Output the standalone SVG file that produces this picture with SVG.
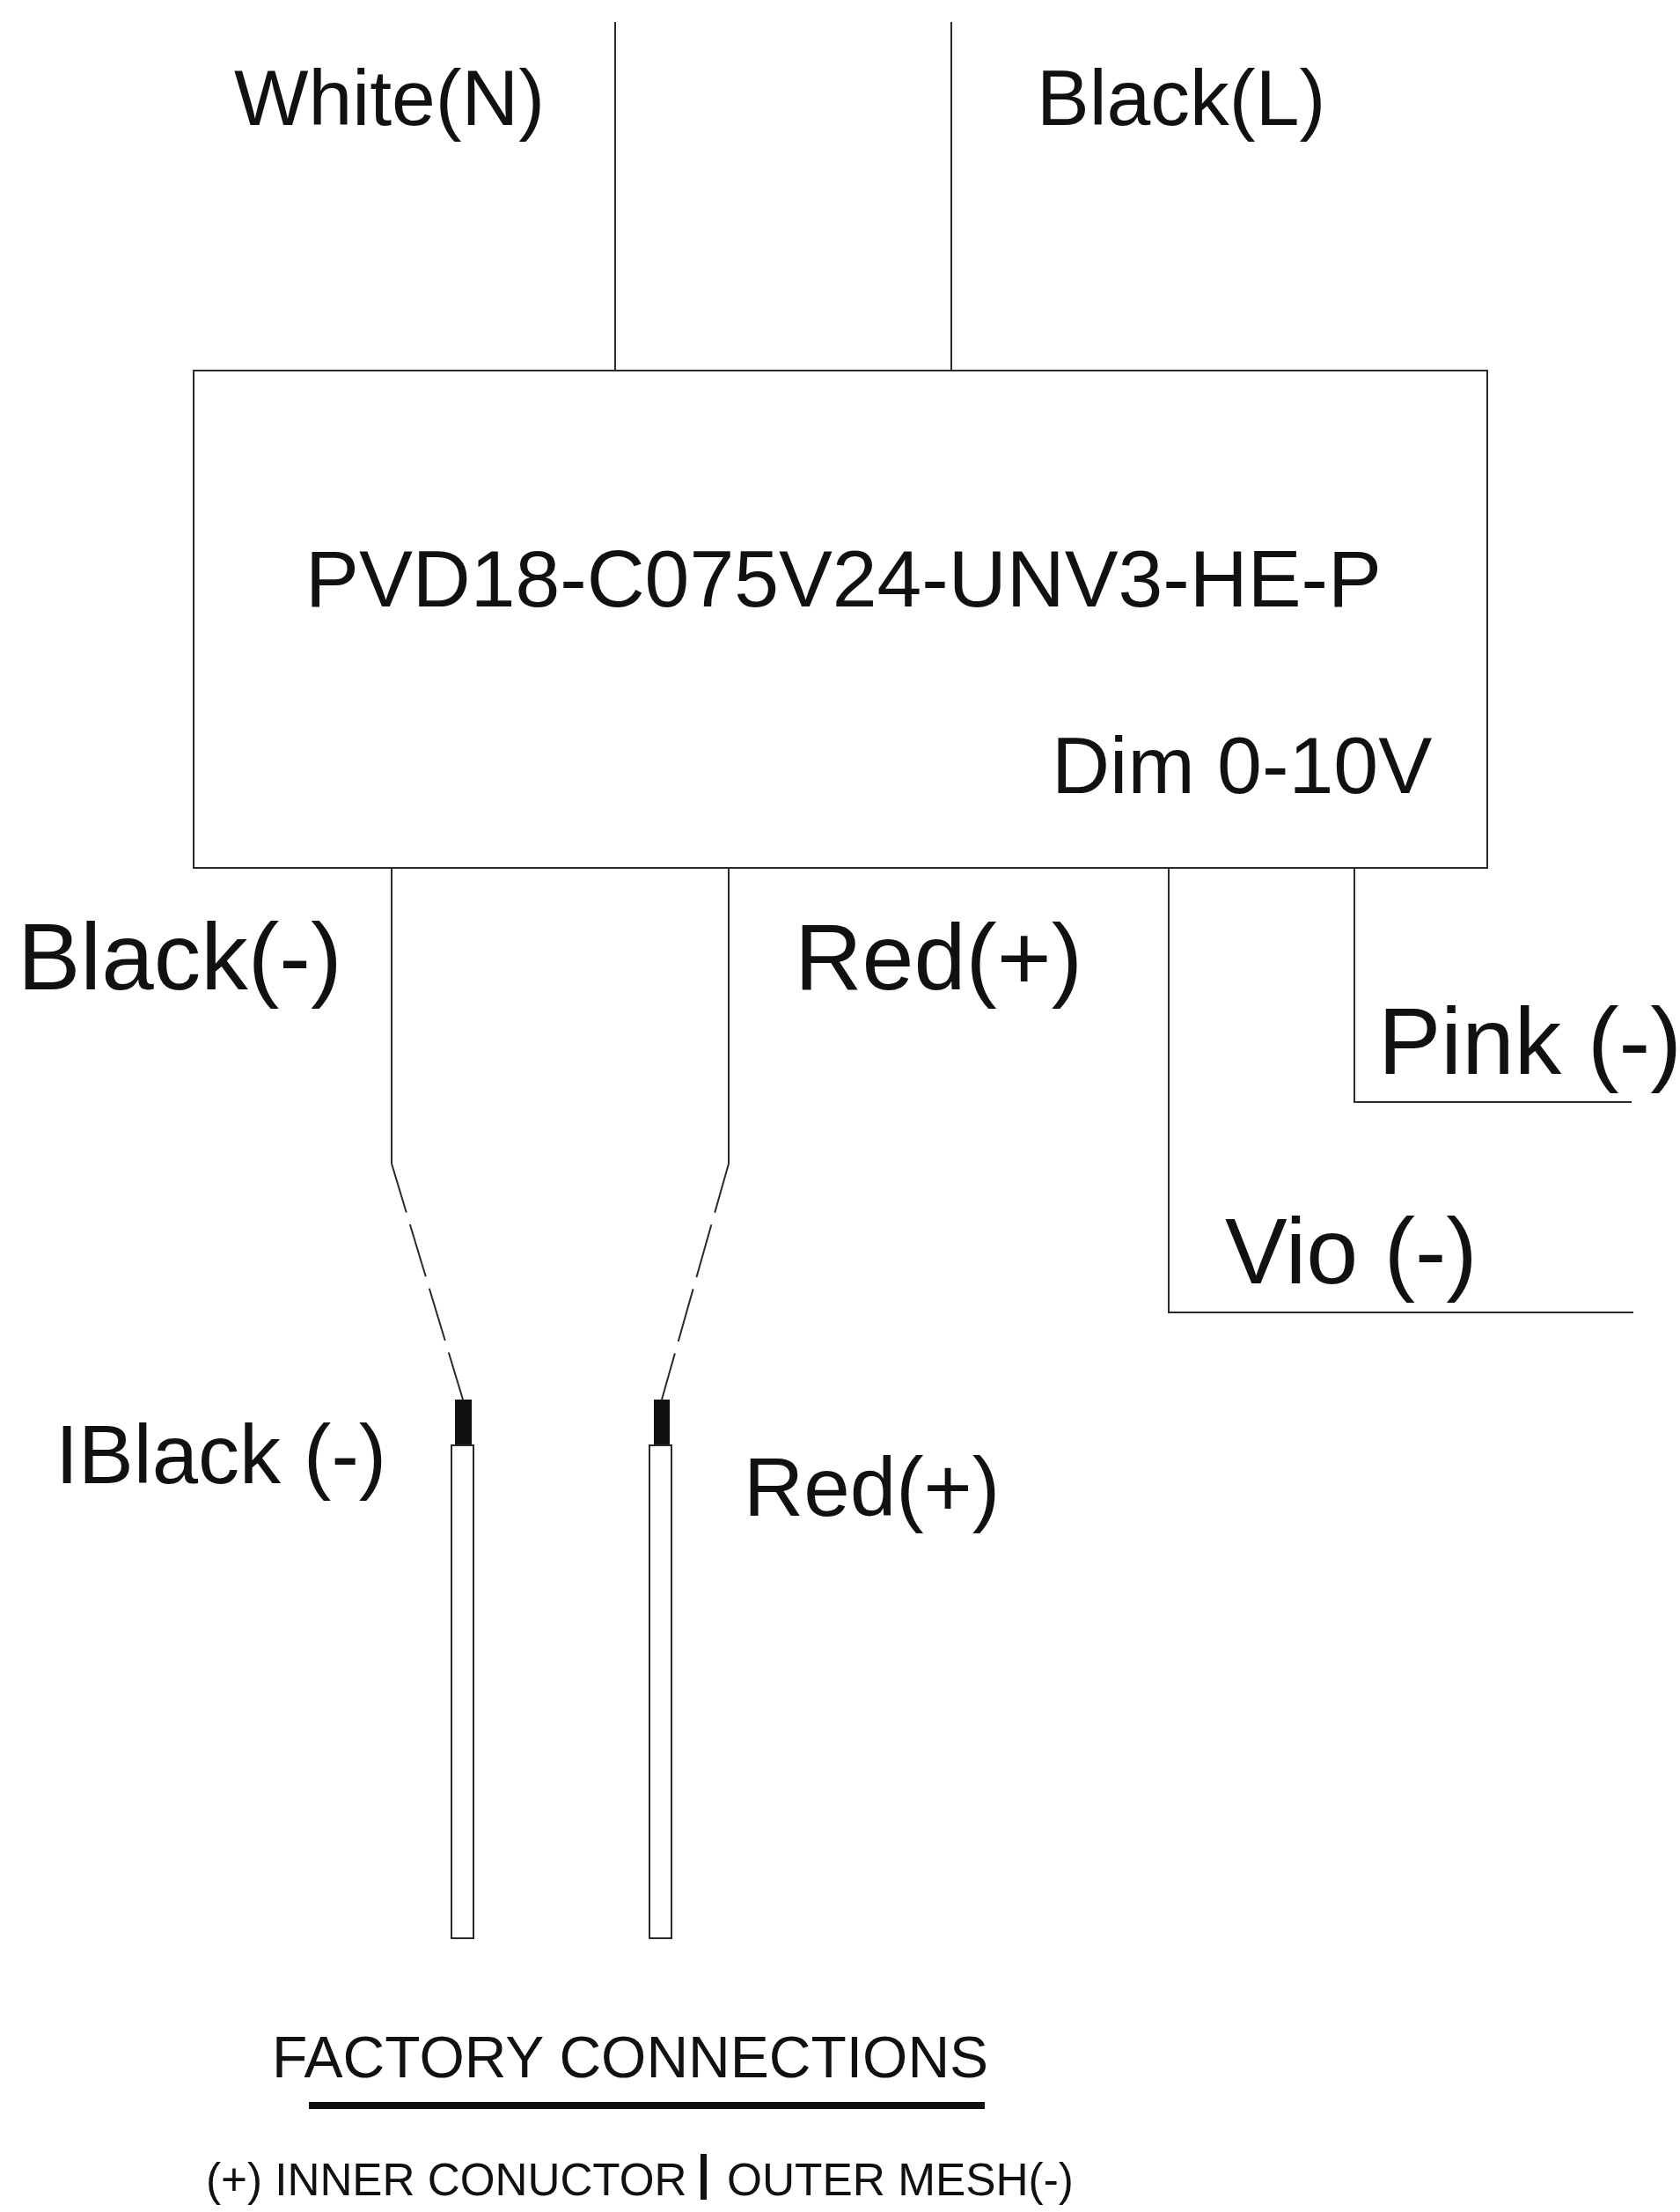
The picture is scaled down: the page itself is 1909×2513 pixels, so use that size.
<svg xmlns="http://www.w3.org/2000/svg" width="1909" height="2513" viewBox="0 0 1909 2513">
<style>
text{font-family:"Liberation Sans",Arial,sans-serif;fill:#111}
.w{fill:none;stroke:#2a2a2a;stroke-width:2}
.d{fill:none;stroke:#2a2a2a;stroke-width:2;stroke-dasharray:62 14;stroke-dashoffset:4}
.t{fill:#fff;stroke:#2a2a2a;stroke-width:2}
</style>
<rect width="1909" height="2513" fill="#fff"/>
<g id="connectors">
<path class="w" d="M699 25V420M1081 25V420"/>
<path class="w" d="M445 986V1322M828 986V1322"/>
<path class="d" d="M445 1322L526 1590"/>
<path class="d" d="M828 1322L752 1590"/>
<path class="w" d="M1328 986V1491H1856"/>
<path class="w" d="M1539 986V1252H1854"/>
</g>
<g id="driver"><rect class="t" x="220" y="421" width="1470" height="565"/>
<text x="347" y="689" font-size="91.3">PVD18-C075V24-UNV3-HE-P</text>
<text x="1195" y="901" font-size="91.5">Dim 0-10V</text></g>
<g id="label-white"><text x="266" y="142" font-size="89.5">White(N)</text></g>
<g id="label-blackl"><text x="1178" y="142" font-size="89.5">Black(L)</text></g>
<g id="label-blackm"><text x="20" y="1124" font-size="107">Black(-)</text></g>
<g id="label-redp"><text x="903" y="1124" font-size="106">Red(+)</text></g>
<g id="label-pink"><text x="1566" y="1220" font-size="107">Pink (-)</text></g>
<g id="label-vio"><text x="1392" y="1458" font-size="106">Vio (-)</text></g>
<g id="label-iblack"><text x="63" y="1685" font-size="94">IBlack (-)</text></g>
<g id="label-red2"><text x="845" y="1722" font-size="94.4">Red(+)</text></g>
<g id="wire-left"><rect x="517" y="1590" width="19" height="52" fill="#111"/><rect class="t" x="513" y="1642" width="25" height="560"/></g>
<g id="wire-right"><rect x="743" y="1590" width="18" height="52" fill="#111"/><rect class="t" x="738" y="1642" width="25" height="560"/></g>
<g id="caption">
<text x="716" y="2360" font-size="66" text-anchor="middle">FACTORY CONNECTIONS</text>
<rect x="351" y="2388" width="768" height="8" fill="#111"/>
<text x="234" y="2494" font-size="51.2">(+) INNER CONUCTOR</text>
<rect x="796" y="2447" width="7" height="52" fill="#111"/>
<text x="826" y="2494" font-size="51.4">OUTER MESH(-)</text>
</g>
</svg>
